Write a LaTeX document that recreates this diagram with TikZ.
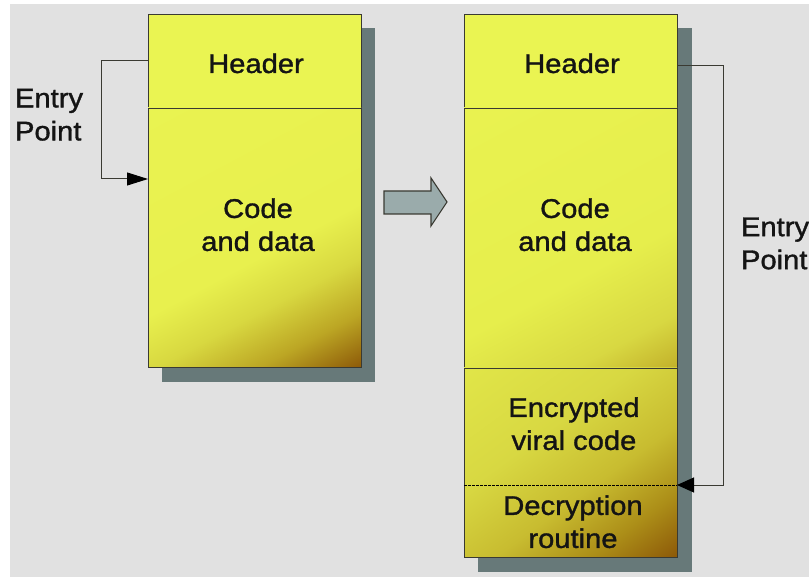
\documentclass[tikz,border=0pt]{standalone}
\usepackage{fontspec}
\setmainfont{Liberation Sans}[FakeStretch=1.08,FakeBold=1.2]
\usetikzlibrary{arrows.meta,calc}
\definecolor{bgc}{HTML}{E1E1E1}
\definecolor{ylw}{HTML}{EAF452}
\definecolor{shd}{HTML}{677979}
\definecolor{edge}{HTML}{3A3A32}
\definecolor{bigarr}{HTML}{9AABAB}
\definecolor{gA1}{HTML}{E8F04E}
\definecolor{gA2}{HTML}{D8D840}
\definecolor{gA3}{HTML}{BCA624}
\definecolor{gA4}{HTML}{8C5808}
\definecolor{gB1}{HTML}{E6EE4C}
\definecolor{gB2}{HTML}{D8D842}
\definecolor{gB3}{HTML}{C2B02A}
\definecolor{gC1}{HTML}{D8D842}
\definecolor{gC2}{HTML}{C8BC30}
\definecolor{gC3}{HTML}{AC8E18}
\pgfdeclarehorizontalshading{goldA}{100bp}{color(0bp)=(ylw); color(54bp)=(gA1); color(64bp)=(gA2); color(74bp)=(gA3); color(84bp)=(gA4); color(100bp)=(gA4)}
\pgfdeclarehorizontalshading{goldB}{100bp}{color(0bp)=(ylw); color(58bp)=(gB1); color(74bp)=(gB2); color(84bp)=(gB3); color(100bp)=(gB3)}
\pgfdeclarehorizontalshading{goldC}{100bp}{color(0bp)=(gB1); color(40bp)=(gC1); color(58bp)=(gC2); color(72bp)=(gC3); color(85bp)=(gA4); color(100bp)=(gA4)}
\tikzset{
  sect/.style={draw=edge, line width=0.9pt, inner sep=0pt, outer sep=0pt, minimum width=213pt},
  ghost/.style={inner sep=0pt, outer sep=0pt, minimum width=213pt},
  conn/.style={draw=edge, line width=1pt},
  lbl/.style={font=\fontsize{27}{33}\selectfont, inner sep=0pt, outer sep=0pt, align=center, text=black!92},
  shadowbox/.style={fill=shd}
}
\begin{document}
\begin{tikzpicture}[x=1pt,y=-1pt]
\useasboundingbox (0,0) rectangle (809,577);
\fill[white] (0,0) rectangle (809,577);
\fill[bgc] (10,4) rectangle (809,577);
% shadows
\fill[shadowbox] (162,28) rectangle (375,382);
\fill[shadowbox] (478,28) rectangle (692,572);
% left box
\node[sect, fill=ylw, minimum height=94pt] (lhead) at (254.5,61) {};
\node[sect, shade, shading=goldA, shading angle=-62, minimum height=259.5pt] (lcode) at (254.5,237.75) {};
% right box
\node[sect, fill=ylw, minimum height=94pt] (rhead) at (570.5,61) {};
\node[sect, shade, shading=goldB, shading angle=-62, minimum height=260pt] (rcode) at (570.5,238) {};
\node[sect, shade, shading=goldC, shading angle=-54, minimum height=189pt] (rlow) at (570.5,462.5) {};
\node[ghost, minimum height=117pt] (renc) at (570.5,426.5) {};
\node[ghost, minimum height=72pt] (rdec) at (570.5,521) {};
\draw[draw=black, line width=0.8pt, dash pattern=on 2.5pt off 1.5pt] (rdec.north west) -- (rdec.north east);
% labels
\node[lbl, anchor=base] (tlhead) at (256,73) {Header};
\node[lbl] (tlcode) at (258,224.75) {Code\\and data};
\node[lbl, anchor=base] (trhead) at (572,73) {Header};
\node[lbl] (trcode) at (575,224.75) {Code\\and data};
\node[lbl] (trenc) at (574,423.75) {Encrypted\\viral code};
\node[lbl] (trdec) at (573,521.75) {Decryption\\routine};
\node[lbl, align=left, anchor=west] (tlentry) at (15,114.75) {Entry\\Point};
\node[lbl, align=left, anchor=west] (trentry) at (741,243.5) {Entry\\Point};
% big transition arrow
\draw[fill=bigarr, draw=edge, line width=1.1pt, line join=miter]
  (384,191) -- (431,191) -- (431,178) -- (447,202) -- (431,226) -- (431,214) -- (384,214) -- cycle;
% entry point connectors
\draw[conn, -{Triangle[length=21pt,width=13pt,color=black]}]
  (lhead.west) -- ++(-47,0) |- (lcode.west |- 0,179);
\draw[conn, -{Triangle[length=17pt,width=15pt,color=black]}]
  (rhead.east |- 0,66) -- ++(46,0) |- (rdec.north east);
\end{tikzpicture}
\end{document}
